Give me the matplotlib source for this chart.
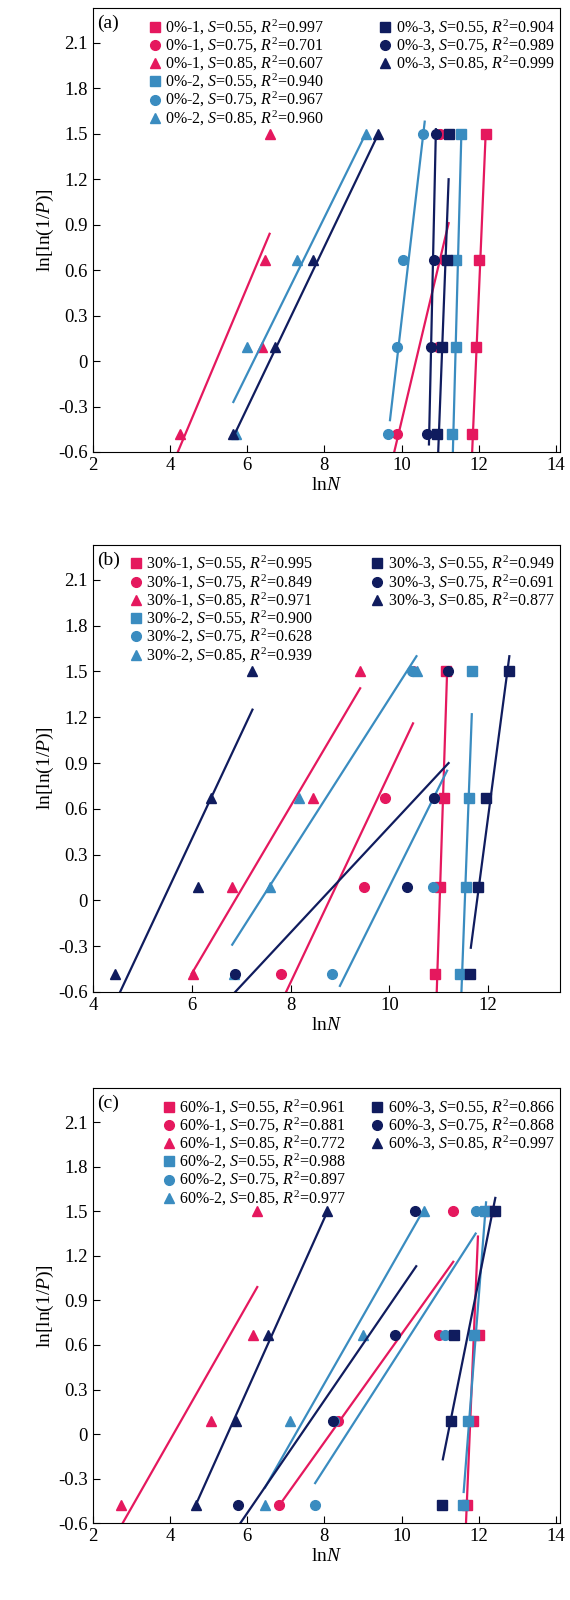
import matplotlib
matplotlib.use("Agg")
import matplotlib.pyplot as plt

plt.rcParams['font.family'] = 'Liberation Serif'
plt.rcParams['mathtext.fontset'] = 'custom'
plt.rcParams['mathtext.rm'] = 'Liberation Serif'
plt.rcParams['mathtext.it'] = 'Liberation Serif:italic'

# y levels of the four failure probabilities
y_levels = [-0.48, 0.09, 0.67, 1.5]

groups = ['-1', '-2', '-3']
stresses = ['0.55', '0.75', '0.85']
colors = ['#E5185E', '#3A8CC0', '#101C5E']
markers = ['s', 'o', '^']

# panel (a) 0%: lnN points per (group, stress), order = y_levels
a_points = [
    [[11.82, 11.94, 12.01, 12.18], [9.87, 10.95, 11.10, 11.00], [4.25, 6.38, 6.46, 6.60]],
    [[11.30, 11.40, 11.42, 11.53], [9.64, 9.89, 10.03, 10.56], [5.70, 5.99, 7.28, 9.07]],
    [[10.93, 11.04, 11.18, 11.24], [10.66, 10.77, 10.83, 10.89], [5.64, 6.71, 7.71, 9.40]],
]
# fitted lines: (x0, y0, x1, y1)
a_lines = [
    [(11.83, -0.6, 12.18, 1.5), (9.81, -0.6, 11.22, 0.91), (4.20, -0.6, 6.58, 0.84)],
    [(11.33, -0.6, 11.55, 1.5), (9.70, -0.39, 10.60, 1.58), (5.64, -0.27, 9.07, 1.5)],
    [(10.95, -0.6, 11.22, 1.2), (10.71, -0.55, 10.89, 1.53), (5.64, -0.5, 9.40, 1.5)],
]
a_r2 = [['0.997', '0.701', '0.607'], ['0.940', '0.967', '0.960'], ['0.904', '0.989', '0.999']]

# panel (b) 30%
b_points = [
    [[10.92, 11.03, 11.10, 11.15], [7.80, 9.49, 9.92, 10.48], [6.02, 6.82, 8.46, 9.41]],
    [[11.44, 11.56, 11.62, 11.67], [8.83, 10.88, 10.91, 10.45], [6.85, 7.58, 8.18, 10.57]],
    [[11.64, 11.80, 11.95, 12.43], [6.88, 10.35, 10.91, 11.19], [4.45, 6.13, 6.40, 7.23]],
]
b_lines = [
    [(10.96, -0.6, 11.17, 1.5), (7.91, -0.6, 10.48, 1.16), (6.00, -0.48, 9.41, 1.39)],
    [(11.46, -0.6, 11.67, 1.22), (9.00, -0.56, 11.17, 0.85), (6.82, -0.29, 10.55, 1.6)],
    [(11.65, -0.31, 12.43, 1.6), (6.88, -0.6, 11.20, 0.9), (4.55, -0.6, 7.23, 1.25)],
]
b_r2 = [['0.995', '0.849', '0.971'], ['0.900', '0.628', '0.939'], ['0.949', '0.691', '0.877']]

# panel (c) 60%
c_points = [
    [[11.70, 11.85, 12.00, 12.30], [6.83, 8.35, 10.97, 11.33], [2.74, 5.07, 6.16, 6.26]],
    [[11.59, 11.73, 11.88, 12.16], [7.76, 8.25, 11.12, 11.92], [6.46, 7.12, 9.00, 10.59]],
    [[11.05, 11.28, 11.37, 12.43], [5.75, 8.22, 9.83, 10.36], [4.66, 5.72, 6.53, 8.08]],
]
c_lines = [
    [(11.67, -0.6, 11.98, 1.33), (6.83, -0.48, 11.34, 1.16), (2.77, -0.6, 6.26, 0.99)],
    [(11.61, -0.39, 12.19, 1.56), (7.76, -0.33, 11.92, 1.35), (6.46, -0.36, 10.55, 1.5)],
    [(11.07, -0.17, 12.43, 1.59), (5.82, -0.6, 10.38, 1.13), (4.66, -0.48, 8.08, 1.5)],
]
c_r2 = [['0.961', '0.881', '0.772'], ['0.988', '0.897', '0.977'], ['0.866', '0.868', '0.997']]

panels = [
    ('(a)', '0%', a_points, a_lines, a_r2, (2.25, 14.1), [2, 4, 6, 8, 10, 12, 14], [0.163, 0.7175, 0.819, 0.2775], 0.10),
    ('(b)', '30%', b_points, b_lines, b_r2, (4.2, 13.45), [4, 6, 8, 10, 12], [0.163, 0.380, 0.819, 0.2795], 0.06),
    ('(c)', '60%', c_points, c_lines, c_r2, (2.25, 14.1), [2, 4, 6, 8, 10, 12, 14], [0.163, 0.048, 0.819, 0.272], 0.13),
]

fig = plt.figure(figsize=(5.7, 16), dpi=100)

for tag, pct, pts, lines, r2, xlim, xticks, pos, legx in panels:
    ax = fig.add_axes(pos)
    handles = []
    for g in range(3):
        for s in range(3):
            x0, y0, x1, y1 = lines[g][s]
            ax.plot([x0, x1], [y0, y1], color=colors[g], lw=1.6)
            h, = ax.plot(pts[g][s], y_levels, linestyle='none', marker=markers[s],
                         color=colors[g], markersize=7,
                         label=pct + groups[g] + ', $S$=' + stresses[s] + ', $R^2$=' + r2[g][s])
            handles.append(h)
    kw = dict(frameon=False, fontsize=11.5, handlelength=0.7, handletextpad=0.3,
              labelspacing=-0.05, borderaxespad=0.2)
    leg1 = ax.legend(handles=handles[:6], loc='upper left', bbox_to_anchor=(legx, 1.0), **kw)
    ax.add_artist(leg1)
    ax.legend(handles=handles[6:], loc='upper right', bbox_to_anchor=(1.01, 1.0), **kw)
    ax.text(0.01, 0.985, tag, transform=ax.transAxes, fontsize=14, va='top', ha='left')
    ax.set_xlim(*xlim)
    ax.set_ylim(-0.6, 2.33)
    ax.set_xticks(xticks)
    ax.set_yticks([-0.6, -0.3, 0, 0.3, 0.6, 0.9, 1.2, 1.5, 1.8, 2.1])
    ax.set_yticklabels(['-0.6', '-0.3', '0', '0.3', '0.6', '0.9', '1.2', '1.5', '1.8', '2.1'])
    ax.tick_params(direction='in', labelsize=13.5, length=5)
    ax.set_xlabel('ln$N$', fontsize=14, labelpad=2)
    ax.set_ylabel('ln[ln(1/$P$)]', fontsize=14, labelpad=2)

fig.savefig('out.png', dpi=100)
